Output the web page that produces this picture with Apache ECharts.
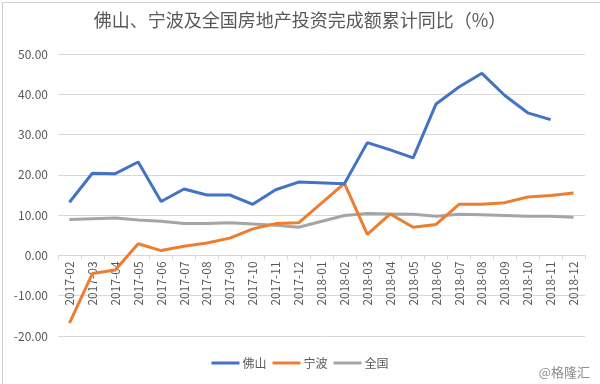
<!DOCTYPE html>
<html><head><meta charset="utf-8">
<script src="https://cdn.jsdelivr.net/npm/echarts@6/dist/echarts.min.js"></script>
<style>html,body{margin:0;padding:0;background:#fff}#c{width:600px;height:384px}</style>
</head><body><div id="c"></div>
<script>
const categories = ['2017-02','2017-03','2017-04','2017-05','2017-06','2017-07','2017-08','2017-09','2017-10','2017-11','2017-12','2018-01','2018-02','2018-03','2018-04','2018-05','2018-06','2018-07','2018-08','2018-09','2018-10','2018-11','2018-12'];
const foshan = [13.2,20.4,20.3,23.2,13.4,16.5,15.0,15.0,12.7,16.3,18.2,null,17.8,28.0,26.2,24.2,37.6,41.8,45.2,39.7,35.4,33.7,null];
const ningbo = [-16.8,-4.5,-3.6,2.9,1.2,2.3,3.1,4.3,6.6,7.9,8.1,null,17.9,5.2,10.3,7.0,7.7,12.7,12.7,13.1,14.5,14.9,15.5];
const national = [8.9,9.1,9.3,8.8,8.5,7.9,7.9,8.1,7.8,7.5,7.0,null,9.9,10.4,10.3,10.2,9.7,10.2,10.1,9.9,9.7,9.7,9.5];
const yTicks = ['-20.00','-10.00','0.00','10.00','20.00','30.00','40.00','50.00'];
const seriesNames = ['佛山','宁波','全国'];
const colors = ['#4472C4','#ED7D31','#A5A5A5'];
const chart = echarts.init(document.getElementById('c'));
const font = '"Noto Sans CJK SC", "Noto Sans", sans-serif';
const gridTop = 54, gridBottom = 48, H = 384, yMin = -20, yMax = 50;
const zeroOffset = (H - gridTop - gridBottom) * (0 - yMin) / (yMax - yMin);
chart.setOption({
  animation: false,
  textStyle: {fontFamily: font},
  title: {text: '佛山、宁波及全国房地产投资完成额累计同比（%）', left: 'center', top: 6,
    textStyle: {fontSize: 18, fontWeight: 'normal', color: '#595959', fontFamily: font}},
  legend: {bottom: 10, left: 'center', itemWidth: 28, itemHeight: 3, itemGap: 6, icon: 'rect',
    textStyle: {fontSize: 12, color: '#595959', padding: [0,0,0,-2]}, data: seriesNames},
  grid: {left: 58, right: 15, top: gridTop, bottom: gridBottom, containLabel: false},
  xAxis: {type: 'category', data: categories, boundaryGap: true, offset: -zeroOffset,
    axisLine: {onZero: false, lineStyle: {color: '#d9d9d9'}},
    axisTick: {show: true, alignWithLabel: false, length: 4, lineStyle: {color: '#d9d9d9'}},
    axisLabel: {rotate: 90, fontSize: 12, color: '#595959', margin: 6, interval: 0}},
  yAxis: {type: 'value', min: yMin, max: yMax, interval: 10,
    axisLine: {show: false}, axisTick: {show: false},
    axisLabel: {fontSize: 12, color: '#595959', margin: 10, formatter: v => yTicks[Math.round((v - yMin) / 10)]},
    splitLine: {lineStyle: {color: '#d9d9d9'}}},
  series: [foshan, ningbo, national].map((d, i) => ({
    name: seriesNames[i], type: 'line', data: d, connectNulls: true, symbol: 'none',
    color: colors[i], lineStyle: {width: 3, color: colors[i]}, z: 3 - i
  })),
  graphic: [
    {type: 'rect', left: 0, top: 0, shape: {width: 599, height: 383}, style: {fill: 'none', stroke: '#d0d0d0', lineWidth: 1}, silent: true},
    {type: 'text', right: 10, bottom: 5, style: {text: '@格隆汇', fontSize: 13, fill: '#8c8c8c', fontFamily: font}}
  ]
});
</script></body></html>
